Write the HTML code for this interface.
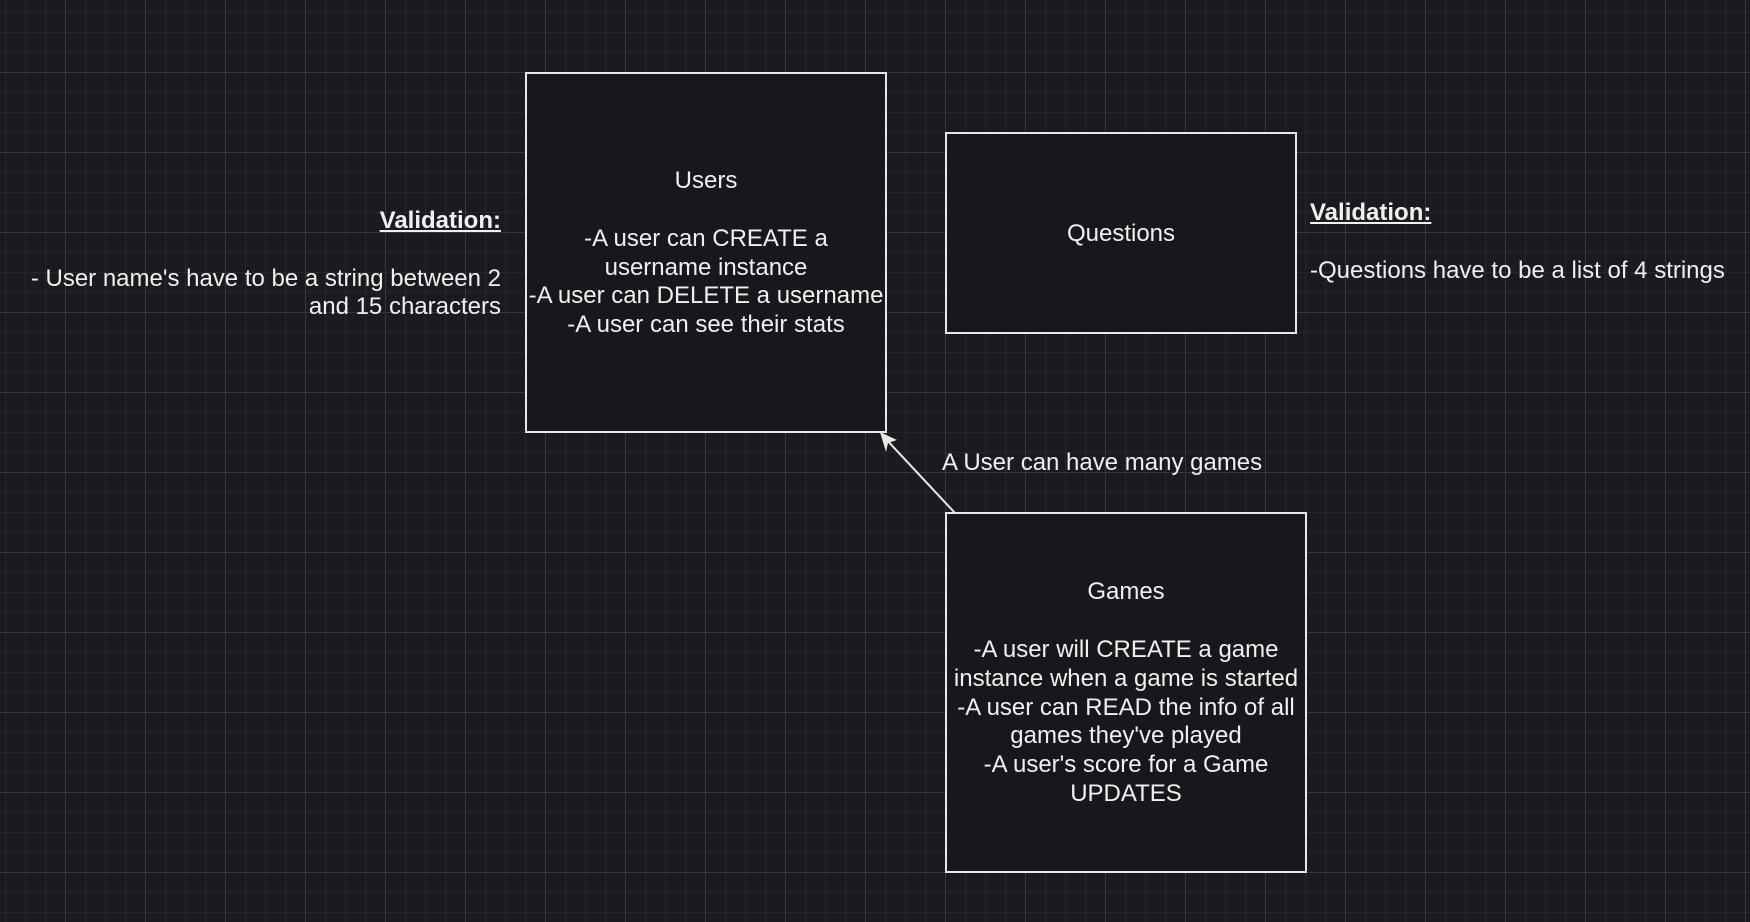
<!DOCTYPE html>
<html><head><meta charset="utf-8"><style>
html,body{margin:0;padding:0;width:1750px;height:922px;overflow:hidden;background:#1b1a1f;}
body{position:relative;font-family:"Liberation Sans",Arial,sans-serif;color:#f0f0f0;font-size:24px;}
svg{position:absolute;left:0;top:0;}
.box{position:absolute;background:#18171c;border:2px solid #e8e8e8;box-sizing:border-box;display:flex;align-items:center;justify-content:center;text-align:center;line-height:28.8px;}
.box>div{position:relative;top:1px;}
.t{position:absolute;line-height:28.8px;white-space:nowrap;}
b{text-decoration:underline;}
</style></head><body>
<svg width="1750" height="922">
<defs>
<pattern id="minor" width="20" height="20" patternUnits="userSpaceOnUse" x="5" y="12">
<path d="M0 0.5H20M0.5 0V20" stroke="#27262b" stroke-width="1" fill="none"/>
</pattern>
<pattern id="major" width="80" height="80" patternUnits="userSpaceOnUse" x="65" y="72">
<path d="M0 0.5H80M0.5 0V80" stroke="#38373c" stroke-width="1" fill="none"/>
</pattern>
</defs>
<rect width="1750" height="922" fill="url(#minor)"/>
<rect width="1750" height="922" fill="url(#major)"/>
<line x1="955" y1="513" x2="884" y2="437" stroke="#e8e8e8" stroke-width="2"/>
<polygon points="880,432 897,440 888,443 886,452" fill="#e8e8e8"/>
</svg>
<div class="box" style="left:525px;top:72px;width:362px;height:361px;"><div>Users<br><br>-A user can CREATE a<br>username instance<br>-A user can DELETE a username<br>-A user can see their stats</div></div>
<div class="box" style="left:945px;top:132px;width:352px;height:202px;"><div>Questions</div></div>
<div class="box" style="left:945px;top:512px;width:362px;height:361px;"><div>Games<br><br>-A user will CREATE a game<br>instance when a game is started<br>-A user can READ the info of all<br>games they've played<br>-A user's score for a Game<br>UPDATES</div></div>
<div class="t" style="right:1249px;top:207px;text-align:right;"><b>Validation:</b><br><br>- User name's have to be a string between 2<br>and 15 characters</div>
<div class="t" style="left:1310px;top:199px;"><b>Validation:</b><br><br>-Questions have to be a list of 4 strings</div>
<div class="t" style="left:942px;top:449px;">A User can have many games</div>
</body></html>
